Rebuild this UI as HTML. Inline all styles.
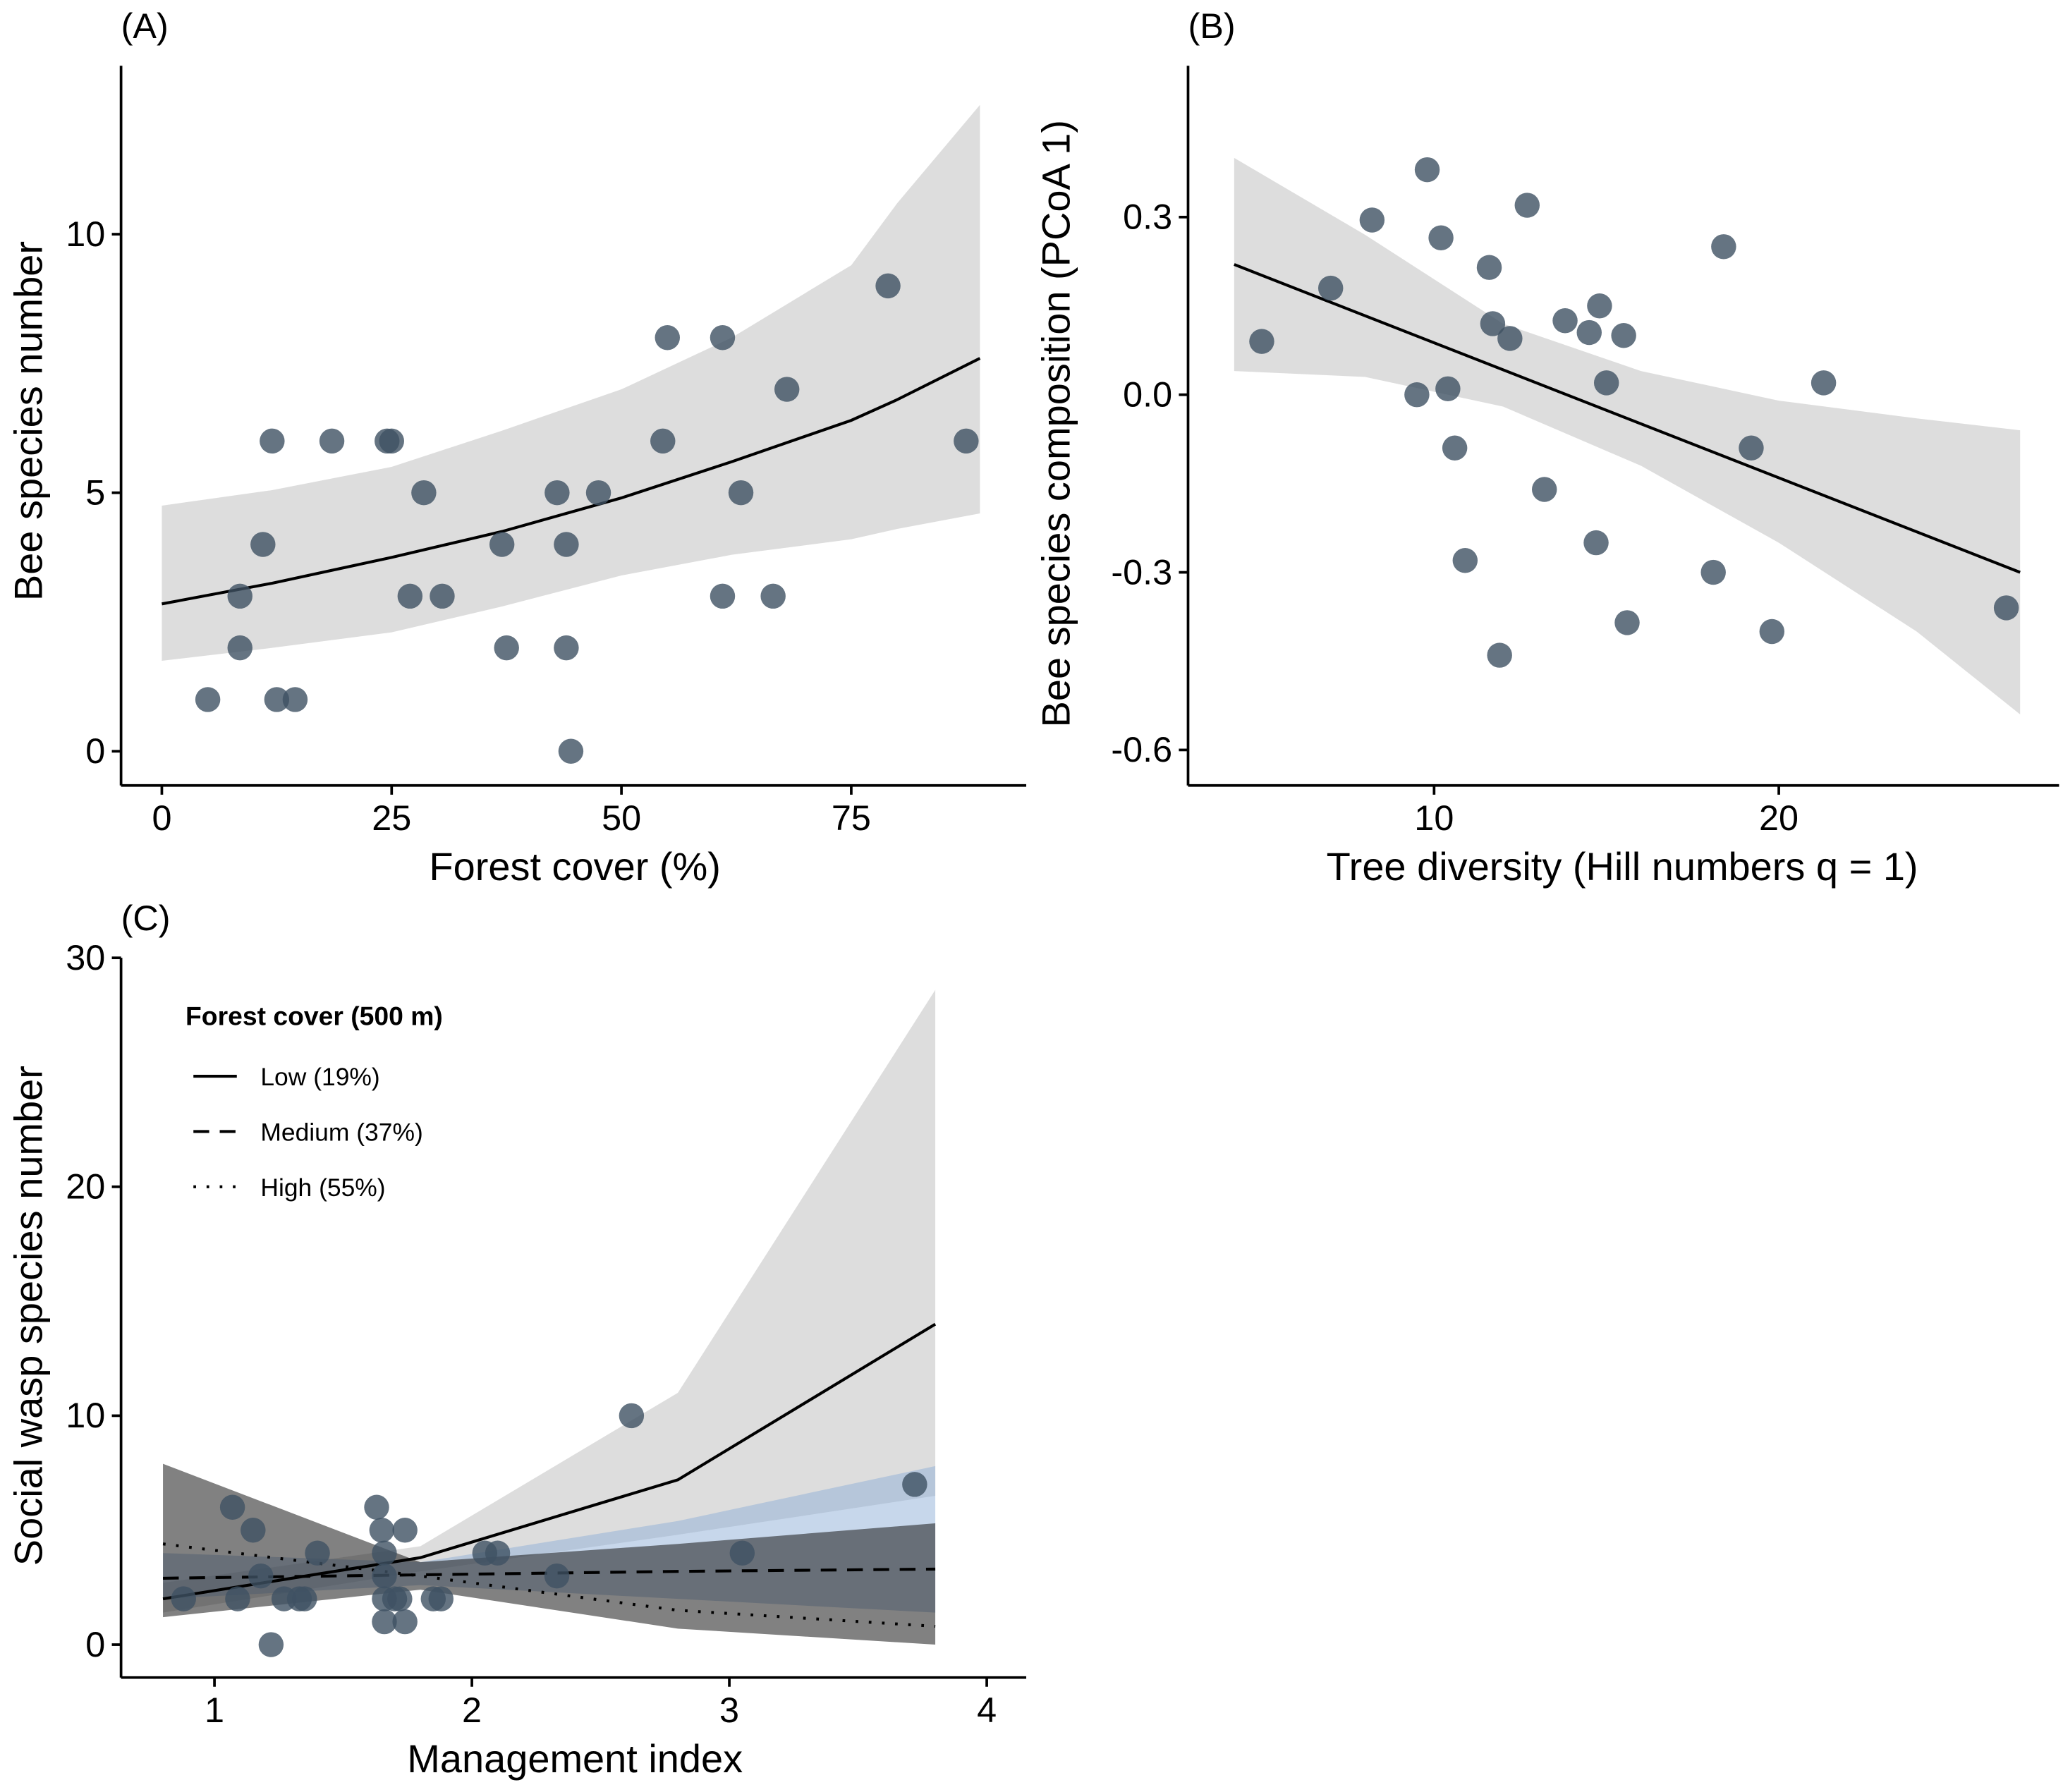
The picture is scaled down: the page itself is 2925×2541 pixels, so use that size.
<!DOCTYPE html>
<html><head><meta charset="utf-8"><style>
html,body{margin:0;padding:0;background:#fff}
svg{display:block;font-family:"Liberation Sans",Arial,sans-serif}
</style></head><body>
<svg id="s" width="2925" height="2541" viewBox="0 0 1568 1362" preserveAspectRatio="none" xmlns="http://www.w3.org/2000/svg"></svg>
<script>
// Panel A data
const aX=[5,8.5,8.5,11,12,12.5,14.5,18.5,24.5,25,27,28.5,30.5,37,37.5,43,44,44,44.5,47.5,54.5,55,61,61,63,66.5,68,79,87.5];
const aY=[1,3,2,4,6,1,1,6,6,6,3,5,3,4,2,5,4,2,0,5,6,8,3,8,5,3,7,9,6];
const aFitX=[0,12,25,37,50,62,75,80,89];
const aFit=[2.85,3.25,3.75,4.25,4.9,5.6,6.4,6.8,7.6];
const aUp=[4.75,5.05,5.5,6.2,7.0,8.0,9.4,10.6,12.5];
const aLo=[1.75,2.0,2.3,2.8,3.4,3.8,4.1,4.3,4.6];
const aXTicks=[0,25,50,75], aYTicks=[0,5,10];
// Panel B data
const bX=[5,7,8.2,9.5,9.8,10.2,10.4,10.6,10.9,11.6,11.7,11.9,12.2,12.7,13.2,13.8,14.5,14.7,14.8,15.0,15.5,15.6,18.1,18.4,19.2,19.8,21.3,26.6];
const bY=[0.09,0.18,0.295,0.0,0.38,0.265,0.01,-0.09,-0.28,0.215,0.12,-0.44,0.095,0.32,-0.16,0.125,0.105,-0.25,0.15,0.02,0.1,-0.385,-0.30,0.25,-0.09,-0.40,0.02,-0.36];
const bFitX=[4.2,27], bFit=[0.22,-0.30];
const bBandX=[4.2,8,12,16,20,24,27];
const bUp=[0.40,0.27,0.12,0.04,-0.01,-0.04,-0.06];
const bLo=[0.04,0.03,-0.02,-0.12,-0.25,-0.40,-0.54];
const bXTicks=[10,20], bYTicks=[0.3,0.0,-0.3,-0.6], bYLabels=["0.3","0.0","-0.3","-0.6"];
// Panel C data
const cX=[0.88,1.07,1.09,1.15,1.18,1.22,1.27,1.33,1.4,1.35,1.63,1.65,1.66,1.66,1.66,1.66,1.7,1.72,1.74,1.74,1.85,1.88,2.05,2.1,2.33,2.62,3.05,3.72];
const cY=[2,6,2,5,3,0,2,2,4,2,6,5,4,3,2,1,2,2,5,1,2,2,4,4,3,10,4,7];
const cLineX=[0.8,1.8,2.8,3.8];
const cLow=[2.0,3.8,7.2,14];
const cLowUp=[2.7,4.3,11,28.6], cLowLo=[1.4,3.2,4.8,6.5];
const cMed=[2.9,3.05,3.2,3.3];
const cMedUp=[4.0,3.6,5.4,7.8], cMedLo=[2.0,2.6,2.0,1.4];
const cHigh=[4.4,3.0,1.5,0.8];
const cHighUp=[7.9,3.6,4.4,5.3], cHighLo=[1.2,2.4,0.7,0.0];
const cXTicks=[1,2,3,4], cYTicks=[0,10,20,30];

const S=document.getElementById('s');
function el(t,a,p){const e=document.createElementNS('http://www.w3.org/2000/svg',t);for(const k in a)e.setAttribute(k,a[k]);(p||S).appendChild(e);return e;}
function lin(d0,d1,r0,r1){return v=>r0+(v-d0)*(r1-r0)/(d1-d0);}
function band(xs,up,lo,fx,fy,fill,op,name){
  let d='M'+xs.map((x,i)=>fx(x)+','+fy(up[i])).join('L');
  for(let i=xs.length-1;i>=0;i--)d+='L'+fx(xs[i])+','+fy(lo[i]);
  const e=el('path',{d:d+'Z',fill:fill,'fill-opacity':op});
  
  
}
function line(xs,ys,fx,fy,dash,name){
  const e=el('polyline',{points:xs.map((x,i)=>fx(x)+','+fy(ys[i])).join(' '),fill:'none',stroke:'#000','stroke-width':2.2,'stroke-dasharray':dash||'none'});
  
  
}
function pts(xs,ys,fx,fy,name){
  xs.forEach((x,i)=>{const c=el('circle',{cx:fx(x),cy:fy(ys[i]),r:9.5,fill:'#3e5163','fill-opacity':0.8});
  
  });
}
function txt(x,y,s,o){const e=el('text',Object.assign({x:x,y:y,'font-size':27,fill:'#000'},o||{}));e.textContent=s;return e;}
function axes(x0,y0,x1,yt,fx,fy,xt,yt2,ylab,xl,yl,tl,tx){
  let e=el('line',{x1:x0,y1:yt,x2:x0,y2:y0,stroke:'#000','stroke-width':2});
  e=el('line',{x1:x0,y1:y0,x2:x1,y2:y0,stroke:'#000','stroke-width':2});
  xt.forEach(v=>{el('line',{x1:fx(v),y1:y0,x2:fx(v),y2:y0+7,stroke:'#000','stroke-width':2});
    const t=txt(fx(v),y0+34,String(v),{'text-anchor':'middle'});});
  yt2.forEach((v,i)=>{el('line',{x1:x0-7,y1:fy(v),x2:x0,y2:fy(v),stroke:'#000','stroke-width':2});
    const t=txt(x0-12,fy(v)+9,ylab?ylab[i]:String(v),{'text-anchor':'end'});});
  let t=txt(xl[0],xl[1],xl[2],{'text-anchor':'middle','font-size':30});
  t=txt(0,0,yl[2],{'text-anchor':'middle','font-size':30,transform:`translate(${yl[0]},${yl[1]}) rotate(-90)`});
  t=txt(tx[0],tx[1],tl,{'font-size':27});
}
// Panel A
(function(){const fx=lin(0,75,123,647),fy=lin(0,10,571,178);
band(aFitX,aUp,aLo,fx,fy,'#d9d9d9',0.9,'confidence-band');
line(aFitX,aFit,fx,fy,null,'fit-line');
pts(aX,aY,fx,fy,'data-point');
axes(92,597,780,50,fx,fy,aXTicks,aYTicks,null,[437,669,'Forest cover (%)'],[32,320,'Bee species number'],'(A)',[92,29]);})();
// Panel B
(function(){const fx=lin(10,20,1090,1352),fy=lin(0,0.3,300,165);
band(bBandX,bUp,bLo,fx,fy,'#d9d9d9',0.9,'confidence-band');
line(bFitX,bFit,fx,fy,null,'fit-line');
pts(bX,bY,fx,fy,'data-point');
axes(903,597,1565,50,fx,fy,bXTicks,bYTicks,bYLabels,[1233,669,'Tree diversity (Hill numbers q = 1)'],[813,322,'Bee species composition (PCoA 1)'],'(B)',[903,29]);})();
// Panel C
(function(){const fx=lin(1,4,163,750),fy=lin(0,30,1250,728);
band(cLineX,cLowUp,cLowLo,fx,fy,'#d9d9d9',0.9,'band-low');
band(cLineX,cMedUp,cMedLo,fx,fy,'#8fb0d8',0.5,'band-medium');
band(cLineX,cHighUp,cHighLo,fx,fy,'#1a1a1a',0.55,'band-high');
line(cLineX,cLow,fx,fy,null,'line-low');
line(cLineX,cMed,fx,fy,'12 8','line-medium');
line(cLineX,cHigh,fx,fy,'2 8','line-high');
pts(cX,cY,fx,fy,'data-point');
axes(92,1275,780,728,fx,fy,cXTicks,cYTicks,null,[437,1347,'Management index'],[32,1000,'Social wasp species number'],'(C)',[92,707]);
let t=txt(141,779,'Forest cover (500 m)',{'font-size':20,'font-weight':'bold'});
[['Low (19%)','none',818],['Medium (37%)','12 8',860],['High (55%)','2 8',902]].forEach(r=>{
 const g=el('g',{});
 el('line',{x1:147,y1:r[2],x2:180,y2:r[2],stroke:'#000','stroke-width':2.2,'stroke-dasharray':r[1]},g);
 const tt=el('text',{x:198,y:r[2]+7,'font-size':19,fill:'#000'},g);tt.textContent=r[0];});
})();
</script>
</body></html>
